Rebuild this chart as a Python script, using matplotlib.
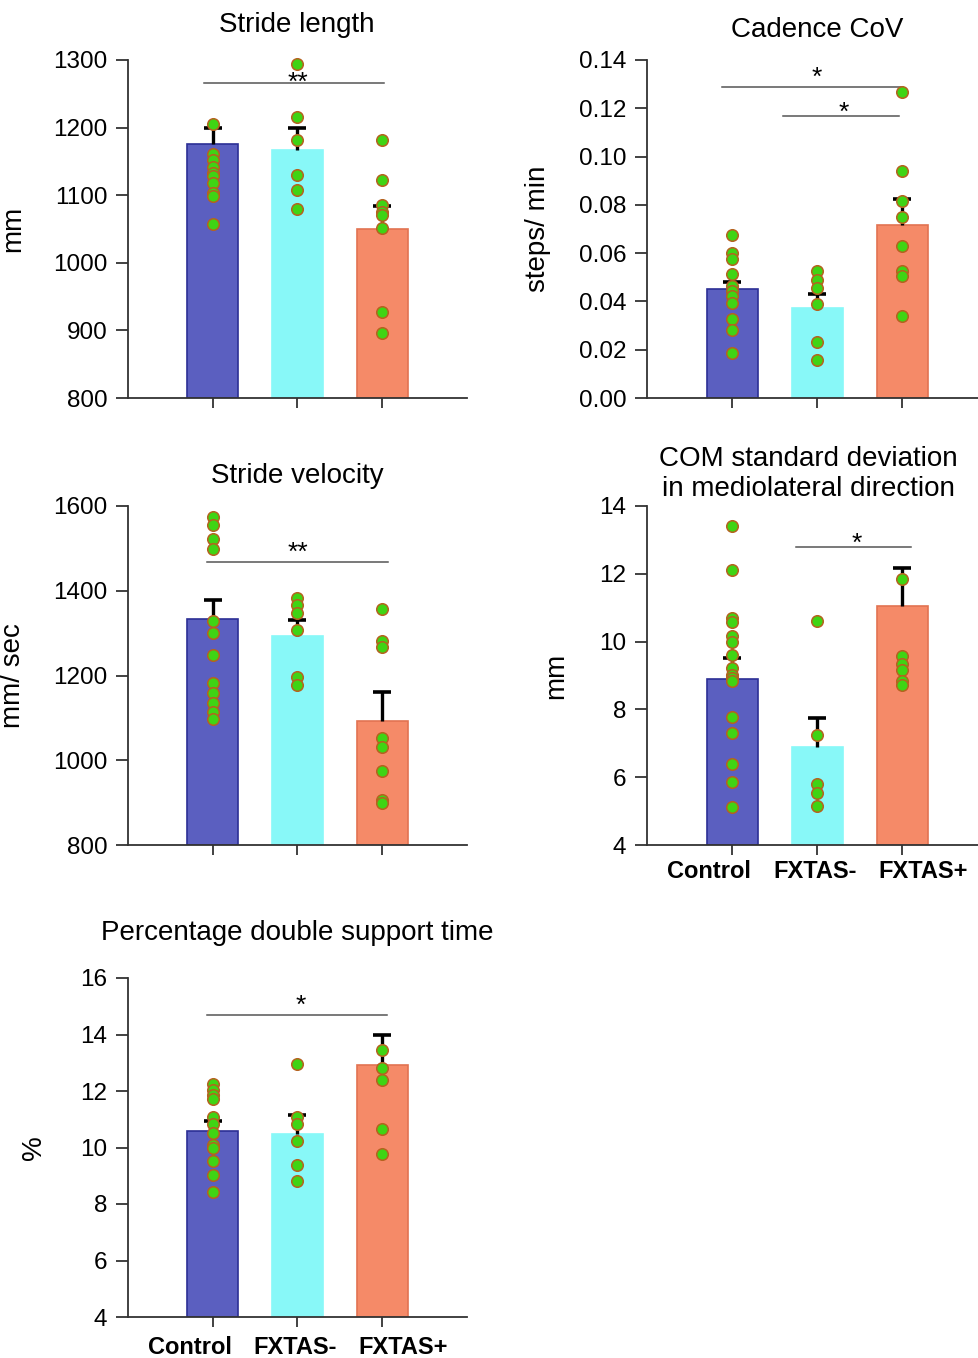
import matplotlib
matplotlib.use("Agg")
import matplotlib.pyplot as plt
import matplotlib.transforms as mtransforms
import numpy as np

plt.rcParams['font.family'] = ['Liberation Sans', 'DejaVu Sans']

groups = ["Control", "FXTAS-", "FXTAS+"]

# Stride length
sl_mean = [1176, 1167, 1050]
sl_err = [1199, 1200, 1084]
sl_pts = [[1206, 1161, 1152, 1141, 1133, 1129, 1118, 1103, 1099, 1058],
          [1294, 1215, 1182, 1130, 1107, 1079],
          [1181, 1122, 1085, 1075, 1070, 1052, 927, 896]]

# Cadence CoV
cc_mean = [0.0451, 0.0372, 0.0717]
cc_err = [0.0479, 0.0432, 0.0823]
cc_pts = [[0.0674, 0.0600, 0.0575, 0.0512, 0.0462, 0.0444, 0.0423, 0.0393, 0.0328, 0.0283, 0.0185],
          [0.0524, 0.0490, 0.0454, 0.0390, 0.0232, 0.0156],
          [0.1266, 0.0939, 0.0814, 0.0749, 0.0628, 0.0528, 0.0506, 0.0338]]

# Stride velocity
sv_mean = [1333, 1293, 1093]
sv_err = [1379, 1331, 1160]
sv_pts = [[1575, 1554, 1523, 1498, 1329, 1301, 1249, 1183, 1159, 1135, 1115, 1098],
          [1382, 1366, 1347, 1307, 1197, 1177],
          [1356, 1282, 1268, 1052, 1032, 975, 906, 898]]

# COM SD mediolateral
com_mean = [8.91, 6.89, 11.06]
com_err = [9.51, 7.74, 12.17]
com_pts = [[13.42, 12.10, 10.69, 10.59, 10.17, 10.0, 9.60, 9.21, 9.01, 8.92, 8.84, 7.79, 7.29, 6.39, 5.85, 5.12],
           [10.6, 7.24, 5.79, 5.54, 5.16],
           [11.84, 9.58, 9.34, 9.16, 8.85, 8.72]]

# Percentage double support time
ds_mean = [10.57, 10.48, 12.93]
ds_err = [10.94, 11.14, 13.99]
ds_pts = [[12.24, 12.02, 11.85, 11.72, 11.08, 10.82, 10.51, 10.08, 9.98, 9.52, 9.01, 8.42],
          [12.97, 11.08, 10.82, 10.24, 9.38, 8.83],
          [13.46, 12.81, 12.38, 10.64, 9.76]]

bar_colors = ['#5b5fc0', '#88f8f8', '#f58a68']
edge_colors = ['#2c2f95', '#88f8f8', '#e27352']
label_shift_px = [-23, -2, 21]

W, H = 979, 1358
fig = plt.figure(figsize=(W / 100, H / 100), dpi=100)


def make_ax(l, r, t, b):
    return fig.add_axes([l / W, 1 - b / H, (r - l) / W, (b - t) / H])


def panel(ax, means, errs, pts, ylim, yticks, fmt, ylabel, labx, sigs, xlim, show_labels, label_dy=0):
    x = np.arange(3)
    for i in range(3):
        ax.bar(x[i], means[i] - ylim[0], bottom=ylim[0], width=0.6,
               color=bar_colors[i], edgecolor=edge_colors[i], linewidth=1.2, zorder=2)
        ax.vlines(x[i], means[i], errs[i], color='black', lw=2.4, zorder=3)
        ax.plot([x[i]], [errs[i]], marker='_', ms=12.5, mew=2.6, color='black', zorder=3)
        ax.plot([x[i]] * len(pts[i]), pts[i], 'o', ms=8.3, mfc='#3fd414',
                mec='#b5621f', mew=1.1, zorder=4, clip_on=False)
    ax.set_xlim(*xlim)
    ax.set_ylim(*ylim)
    ax.set_yticks(yticks)
    ax.set_yticklabels([fmt.format(v) for v in yticks], fontsize=17.5)
    ax.set_xticks(x)
    ax.set_xticklabels([])
    if show_labels:
        for i, (g, dx) in enumerate(zip(groups, label_shift_px)):
            tr = ax.get_xaxis_transform() + mtransforms.ScaledTranslation(
                dx / 100, -label_dy / 100, fig.dpi_scale_trans)
            ax.text(x[i], 0, g, transform=tr, ha='center', va='center',
                    fontsize=17, fontweight='bold')
    for s in ['top', 'right']:
        ax.spines[s].set_visible(False)
    for s in ['left', 'bottom']:
        ax.spines[s].set_color('#333333')
        ax.spines[s].set_linewidth(1.3)
    ax.tick_params(axis='y', length=9, width=1.3, color='#333333', pad=6)
    ax.tick_params(axis='x', length=7, width=1.3, color='#333333', pad=4)
    ax.set_ylabel(ylabel, fontsize=20)
    ax.yaxis.set_label_coords(labx, 0.5)
    for (x0, x1, yl, xs, ys, txt) in sigs:
        ax.plot([x0, x1], [yl, yl], color='#555555', lw=1.1, zorder=1)
        ax.annotate(txt, xy=(xs, ys), xytext=(0, -11), textcoords='offset points',
                    ha='center', va='baseline', fontsize=19)


# Panel 1: Stride length
ax1 = make_ax(128, 467, 60, 398)
panel(ax1, sl_mean, sl_err, sl_pts, (800, 1300), [800, 900, 1000, 1100, 1200, 1300], '{:d}',
      'mm', -0.30, [(-0.1, 2.02, 1266, 1.0, 1278, '**')], (-1, 3), False)
fig.text(297 / W, 1 - 25 / H, 'Stride length', ha='center', va='center', fontsize=20)

# Panel 2: Cadence CoV
ax2 = make_ax(647, 979, 60, 398)
panel(ax2, cc_mean, cc_err, cc_pts, (0, 0.14), [0, 0.02, 0.04, 0.06, 0.08, 0.10, 0.12, 0.14], '{:.2f}',
      'steps/ min', -0.29,
      [(-0.12, 1.98, 0.1288, 0.99, 0.1359, '*'), (0.6, 1.96, 0.1169, 1.31, 0.1214, '*')], (-1, 2.9), False)
fig.text(817 / W, 1 - 30 / H, 'Cadence CoV', ha='center', va='center', fontsize=20)

# Panel 3: Stride velocity
ax3 = make_ax(128, 467, 506, 845)
panel(ax3, sv_mean, sv_err, sv_pts, (800, 1600), [800, 1000, 1200, 1400, 1600], '{:d}',
      'mm/ sec', -0.30, [(-0.07, 2.07, 1469, 1.0, 1510, '**')], (-1, 3), False)
fig.text(297 / W, 1 - 476 / H, 'Stride velocity', ha='center', va='center', fontsize=20)

# Panel 4: COM SD
ax4 = make_ax(647, 979, 506, 845)
panel(ax4, com_mean, com_err, com_pts, (4, 14), [4, 6, 8, 10, 12, 14], '{:d}',
      'mm', -0.235, [(0.75, 2.1, 12.8, 1.46, 13.12, '*')], (-1, 2.9), True, label_dy=27)
fig.text(808 / W, 1 - 473.5 / H, 'COM standard deviation\nin mediolateral direction',
         ha='center', va='center', fontsize=20, linespacing=1.2)

# Panel 5: Percentage double support time
ax5 = make_ax(128, 467, 978, 1317)
panel(ax5, ds_mean, ds_err, ds_pts, (4, 16), [4, 6, 8, 10, 12, 14, 16], '{:d}',
      '%', -0.24, [(-0.07, 2.06, 14.70, 1.04, 15.29, '*')], (-1, 3), True, label_dy=30)
fig.text(297 / W, 1 - 933 / H, 'Percentage double support time', ha='center', va='center', fontsize=20)

fig.savefig('out.png', dpi=100)
